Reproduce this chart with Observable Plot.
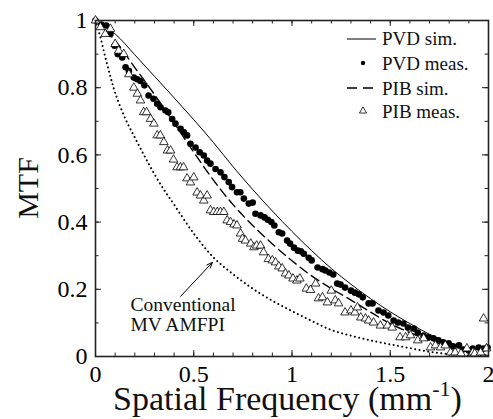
<!DOCTYPE html>
<html>
<head>
<meta charset="utf-8">
<script src="https://cdn.jsdelivr.net/npm/d3@7"></script>
<script src="https://cdn.jsdelivr.net/npm/@observablehq/plot@0.6"></script>
<style>
  html, body { margin: 0; padding: 0; background: #fff; overflow: hidden; }
  svg { display: block; }
  svg text, svg tspan { font-family: "Liberation Serif", "Times New Roman", serif !important; }
</style>
</head>
<body>
<div id="chart"></div>
<script>
// ---- Data ----
const simFreq = [0,0.1,0.2,0.3,0.4,0.5,0.6,0.7,0.8,0.9,1.0,1.1,1.2,1.3,1.4,1.5,1.6,1.7,1.8,1.9,2.0];
const pvdSim = [1,0.96,0.898,0.834,0.77,0.705,0.637,0.565,0.497,0.433,0.372,0.315,0.262,0.215,0.172,0.133,0.098,0.066,0.038,0.016,0.003];
const pibSim = [1,0.94,0.86,0.78,0.695,0.608,0.525,0.452,0.39,0.335,0.285,0.24,0.202,0.168,0.132,0.098,0.071,0.049,0.029,0.013,0.003];

const convFreq = [0,0.025,0.05,0.075,0.1,0.15,0.2,0.25,0.3,0.35,0.4,0.5,0.6,0.7,0.8,0.9,1.0,1.1,1.2,1.3,1.4,1.5,1.6,1.7,1.8,1.9,2.0];
const convMTF = [1,0.95,0.89,0.835,0.785,0.71,0.652,0.596,0.543,0.495,0.452,0.366,0.295,0.245,0.202,0.166,0.135,0.106,0.079,0.062,0.048,0.036,0.025,0.014,0.007,0.003,0.001];

const pvdMeasFreq = [0,0.03,0.055,0.076,0.097,0.113,0.136,0.153,0.17,0.195,0.212,0.229,0.249,0.27,0.295,0.314,0.331,0.356,0.37,0.39,0.407,0.433,0.45,0.466,0.483,0.509,0.53,0.551,0.568,0.585,0.611,0.636,0.656,0.678,0.695,0.72,0.737,0.755,0.78,0.8,0.814,0.84,0.86,0.877,0.895,0.91,0.933,0.95,0.975,0.99,1.01,1.03,1.045,1.06,1.085,1.10,1.13,1.155,1.17,1.19,1.21,1.23,1.247,1.27,1.30,1.32,1.34,1.36,1.39,1.41,1.44,1.466,1.49,1.517,1.54,1.567,1.59,1.62,1.64,1.67,1.695,1.72,1.745,1.77,1.797,1.82,1.85,1.87,1.9,1.92,1.95,1.975,1.995];
const pvdMeasMTF = [1.0,0.988,0.985,0.96,0.925,0.90,0.89,0.861,0.85,0.83,0.825,0.82,0.807,0.777,0.767,0.752,0.742,0.732,0.727,0.707,0.693,0.678,0.667,0.658,0.633,0.622,0.608,0.598,0.583,0.574,0.558,0.548,0.534,0.519,0.504,0.489,0.489,0.47,0.455,0.458,0.425,0.42,0.414,0.407,0.40,0.39,0.37,0.366,0.345,0.336,0.324,0.315,0.313,0.306,0.294,0.286,0.265,0.26,0.256,0.25,0.244,0.217,0.214,0.205,0.196,0.19,0.185,0.176,0.158,0.158,0.137,0.131,0.122,0.107,0.101,0.098,0.086,0.083,0.071,0.062,0.057,0.054,0.048,0.042,0.039,0.03,0.033,0.021,0.018,0.024,0.027,0.024,0.027];

const pibMeasFreq = [0,0.025,0.05,0.076,0.1,0.118,0.144,0.17,0.195,0.213,0.229,0.245,0.26,0.28,0.297,0.314,0.33,0.348,0.366,0.382,0.397,0.415,0.432,0.448,0.466,0.483,0.50,0.517,0.534,0.551,0.568,0.585,0.602,0.62,0.636,0.653,0.67,0.687,0.705,0.72,0.738,0.748,0.763,0.79,0.806,0.82,0.84,0.855,0.88,0.9,0.916,0.933,0.95,0.967,0.984,1.005,1.025,1.04,1.073,1.094,1.12,1.135,1.155,1.18,1.2,1.22,1.237,1.27,1.3,1.32,1.333,1.35,1.374,1.39,1.415,1.45,1.486,1.51,1.55,1.578,1.603,1.64,1.67,1.705,1.73,1.756,1.78,1.807,1.83,1.86,1.89,1.92,1.93,1.96,1.975,1.99];
const pibMeasMTF = [1.0,0.98,0.96,0.975,0.93,0.91,0.90,0.84,0.80,0.782,0.762,0.727,0.727,0.707,0.693,0.658,0.658,0.638,0.613,0.613,0.586,0.563,0.563,0.563,0.53,0.518,0.533,0.488,0.479,0.464,0.479,0.435,0.43,0.43,0.43,0.43,0.405,0.40,0.393,0.39,0.366,0.35,0.345,0.336,0.325,0.33,0.33,0.31,0.29,0.286,0.28,0.268,0.262,0.247,0.241,0.232,0.226,0.232,0.202,0.198,0.217,0.173,0.176,0.161,0.196,0.167,0.158,0.131,0.137,0.131,0.146,0.116,0.113,0.107,0.101,0.092,0.092,0.086,0.057,0.057,0.063,0.048,0.054,0.027,0.033,0.027,0.033,0.012,0.012,0.009,0.024,0.012,0.009,0.012,0.113,0.024];

const xTicks = [0,0.5,1,1.5,2];
const yTicks = [0,0.2,0.4,0.6,0.8,1];
const xMinor = d3.range(0, 21).map(i => i / 10);
const yMinor = d3.range(0, 11).map(i => i / 10);

const legendLabels = ["PVD sim.", "PVD meas.", "PIB sim.", "PIB meas."];
const annotationLabel = "Conventional\nMV AMFPI";
const annotation = [{x: 0.178, y: 0.176, text: annotationLabel}];
const arrowSpec = [{x1: 0.433, y1: 0.179, x2: 0.595, y2: 0.28}];

// ---- Tables ----
const zipXY = (xs, ys) => xs.map((x, i) => ({x, y: ys[i]}));
const pvdSimData = zipXY(simFreq, pvdSim);
const pibSimData = zipXY(simFreq, pibSim);
const convData = zipXY(convFreq, convMTF);
const pvdMeasData = zipXY(pvdMeasFreq, pvdMeasMTF);
const pibMeasData = zipXY(pibMeasFreq, pibMeasMTF);

const W = 493, H = 419;
const mL = 95, mR = 5, mT = 20, mB = 63;
const fw = W - mL - mR, fh = H - mT - mB;
const font = "Liberation Serif, Times New Roman, serif";
const major = 6, minor = 3.5;

const svg = Plot.plot({
  width: W, height: H,
  marginLeft: mL, marginRight: mR, marginTop: mT, marginBottom: mB,
  style: {fontFamily: font, fontSize: "24px", color: "#000", background: "#fff", maxWidth: "none"},
  x: {domain: [0, 2]},
  y: {domain: [0, 1]},
  marks: [
    // inward ticks on all four sides
    Plot.tickX(xMinor, {x: d => d, insetTop: fh - minor, stroke: "#222", strokeWidth: 1}),
    Plot.tickX(xMinor, {x: d => d, insetBottom: fh - minor, stroke: "#222", strokeWidth: 1}),
    Plot.tickX(xTicks, {x: d => d, insetTop: fh - major, stroke: "#222", strokeWidth: 1}),
    Plot.tickX(xTicks, {x: d => d, insetBottom: fh - major, stroke: "#222", strokeWidth: 1}),
    Plot.tickY(yMinor, {y: d => d, insetRight: fw - minor, stroke: "#222", strokeWidth: 1}),
    Plot.tickY(yMinor, {y: d => d, insetLeft: fw - minor, stroke: "#222", strokeWidth: 1}),
    Plot.tickY(yTicks, {y: d => d, insetRight: fw - major, stroke: "#222", strokeWidth: 1}),
    Plot.tickY(yTicks, {y: d => d, insetLeft: fw - major, stroke: "#222", strokeWidth: 1}),
    Plot.axisX({ticks: xTicks, tickSize: 0, tickPadding: 8, tickFormat: d => String(d), label: null, fontSize: 24, fontFamily: font}),
    Plot.axisY({ticks: yTicks, tickSize: 0, tickPadding: 8, tickFormat: d => String(d), label: null, fontSize: 24, fontFamily: font}),
    // curves
    Plot.line(convData, {x: "x", y: "y", curve: "catmull-rom", stroke: "#000", strokeWidth: 2, strokeDasharray: "0.1 4.3", strokeLinecap: "round"}),
    Plot.line(pibSimData, {x: "x", y: "y", curve: "catmull-rom", stroke: "#000", strokeWidth: 1.4, strokeDasharray: "9 5"}),
    Plot.line(pvdSimData, {x: "x", y: "y", curve: "catmull-rom", stroke: "#000", strokeWidth: 1}),
    // measurements
    Plot.dot(pvdMeasData, {x: "x", y: "y", r: 3.3, fill: "#000", stroke: "none"}),
    Plot.dot(pibMeasData, {x: "x", y: "y", symbol: "triangle", r: 3.2, fill: "#fff", stroke: "#000", strokeWidth: 0.8}),
    // annotation
    Plot.arrow(arrowSpec, {x1: "x1", y1: "y1", x2: "x2", y2: "y2", stroke: "#000", strokeWidth: 1, headLength: 9, headAngle: 45}),
    Plot.text(annotation, {x: "x", y: "y", text: "text", textAnchor: "start", lineAnchor: "top", lineHeight: 1.0, fontSize: 19.5, fontFamily: font, fill: "#111"}),
    Plot.frame({stroke: "#222", strokeWidth: 1.6})
  ]
});

const s = d3.select(svg);
s.selectAll("g[aria-label='x-axis tick label'] text, g[aria-label='y-axis tick label'] text")
  .style("font-size", "24px");

// x axis title with superscript
const xt = s.append("text")
  .attr("x", mL + fw / 2 - 4).attr("y", 410)
  .attr("text-anchor", "middle")
  .style("font-size", "34px").attr("fill", "#111");
xt.append("tspan").text("Spatial Frequency (mm");
xt.append("tspan").style("font-size", "22px").attr("dy", -14).text("-1");
xt.append("tspan").attr("dy", 14).text(")");

// y axis title
s.append("text")
  .attr("transform", `translate(38,188) rotate(-90)`)
  .attr("text-anchor", "middle")
  .style("font-size", "30px").attr("fill", "#111")
  .text("MTF");

// legend
const lg = s.append("g").attr("text-anchor", "start").attr("fill", "#111");
const baselines = [45, 70, 95, 118];
legendLabels.forEach((t, i) => {
  lg.append("text").attr("x", 382).attr("y", baselines[i]).attr("text-anchor", "start").style("font-size", "19px").text(t);
});
lg.append("line").attr("x1", 347).attr("x2", 376).attr("y1", 39).attr("y2", 39).attr("stroke", "#000").attr("stroke-width", 1);
lg.append("circle").attr("cx", 363).attr("cy", 63).attr("r", 2.2).attr("fill", "#000");
lg.append("line").attr("x1", 347).attr("x2", 377).attr("y1", 88).attr("y2", 88).attr("stroke", "#000").attr("stroke-width", 1.4).attr("stroke-dasharray", "10 6");
lg.append("path").attr("d", d3.symbol(d3.symbolTriangle, 22)()).attr("transform", "translate(363,111)").attr("fill", "#fff").attr("stroke", "#000").attr("stroke-width", 0.8);

document.getElementById("chart").appendChild(svg);
</script>
</body>
</html>
